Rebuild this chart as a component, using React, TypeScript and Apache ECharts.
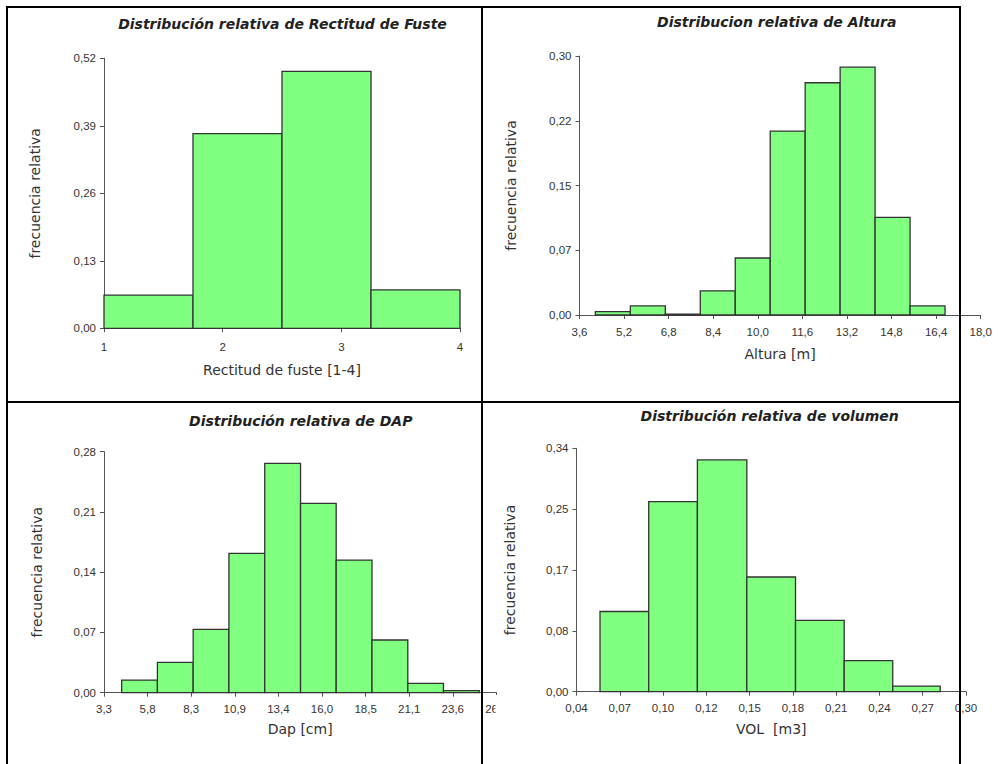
import React, { useEffect, useRef } from "react";
import * as echarts from "echarts";

const FONT = "'DejaVu Sans', Verdana, sans-serif";
const TICK_FONT = "'Liberation Sans', Arial, sans-serif";
const BAR_FILL = "#80ff80";
const BAR_STROKE = "#333333";
const AXIS_COLOR = "#555555";
const TEXT_COLOR = "#333333";

// ---- Panel 1: Rectitud de fuste ----
const fusteXTicks = ["1", "2", "3", "4"];
const fusteXStart = 1;
const fusteXStep = 1;
const fusteYTicks = ["0,00", "0,13", "0,26", "0,39", "0,52"];
const fusteYMax = 0.52;
const fusteEdges = [1, 1.75, 2.5, 3.25, 4];
const fusteFreq = [0.064, 0.375, 0.495, 0.074];

// ---- Panel 2: Altura ----
const alturaXTicks = ["3,6", "5,2", "6,8", "8,4", "10,0", "11,6", "13,2", "14,8", "16,4", "18,0"];
const alturaXStart = 3.6;
const alturaXStep = 1.6;
const alturaYTicks = ["0,00", "0,07", "0,15", "0,22", "0,30"];
const alturaYMax = 0.3;
const alturaEdges = [4.17, 5.425, 6.68, 7.935, 9.19, 10.445, 11.7, 12.955, 14.21, 15.465, 16.72];
const alturaFreq = [0.004, 0.0105, 0.001, 0.028, 0.066, 0.213, 0.269, 0.287, 0.113, 0.0105];

// ---- Panel 3: DAP ----
const dapXTicks = ["3,3", "5,8", "8,3", "10,9", "13,4", "16,0", "18,5", "21,1", "23,6", "26,2"];
const dapXStart = 3.3;
const dapXStep = 2.5444;
const dapYTicks = ["0,00", "0,07", "0,14", "0,21", "0,28"];
const dapYMax = 0.28;
const dapEdges = [4.33, 6.417, 8.504, 10.59, 12.68, 14.77, 16.85, 18.94, 21.03, 23.11, 25.2];
const dapFreq = [0.0147, 0.0352, 0.0736, 0.1619, 0.2664, 0.22, 0.1541, 0.0612, 0.0108, 0.0023];

// ---- Panel 4: Volumen ----
const volXTicks = ["0,04", "0,07", "0,10", "0,12", "0,15", "0,18", "0,21", "0,24", "0,27", "0,30"];
const volXStart = 0.04;
const volXStep = 0.028889;
const volYTicks = ["0,00", "0,08", "0,17", "0,25", "0,34"];
const volYMax = 0.34;
const volEdges = [0.0557, 0.0882, 0.1207, 0.1537, 0.1862, 0.2187, 0.2511, 0.2828];
const volFreq = [0.112, 0.2655, 0.3237, 0.1602, 0.0997, 0.0433, 0.0079];

const Y_NAME = "frecuencia relativa";

const panels = [
  {
    title: "Distribución relativa de Rectitud de Fuste",
    xName: "Rectitud de fuste [1-4]",
    xTicks: fusteXTicks, xStart: fusteXStart, xStep: fusteXStep,
    yTicks: fusteYTicks, yMax: fusteYMax, edges: fusteEdges, freq: fusteFreq,
    grid: { left: 104, top: 58.3, width: 356, height: 270 },
    titlePos: [282.5, 23.8], xNameGap: 35, yNameGap: 62, xLabelMargin: 12.5, yLabelMargin: 8,
  },
  {
    title: "Distribucion relativa de Altura",
    xName: "Altura [m]",
    xTicks: alturaXTicks, xStart: alturaXStart, xStep: alturaXStep,
    yTicks: alturaYTicks, yMax: alturaYMax, edges: alturaEdges, freq: alturaFreq,
    grid: { left: 579.5, top: 56, width: 401.2, height: 259 },
    titlePos: [776.7, 22.2], xNameGap: 31.5, yNameGap: 62, xLabelMargin: 11, yLabelMargin: 8,
  },
  {
    title: "Distribución relativa de DAP",
    xName: "Dap [cm]",
    xTicks: dapXTicks, xStart: dapXStart, xStep: dapXStep,
    yTicks: dapYTicks, yMax: dapYMax, edges: dapEdges, freq: dapFreq,
    grid: { left: 104, top: 451.7, width: 392.4, height: 241 },
    titlePos: [300.7, 420.5], xNameGap: 29.5, yNameGap: 60, xLabelMargin: 10.5, yLabelMargin: 8,
  },
  {
    title: "Distribución relativa de volumen",
    xName: "VOL  [m3]",
    xTicks: volXTicks, xStart: volXStart, xStep: volXStep,
    yTicks: volYTicks, yMax: volYMax, edges: volEdges, freq: volFreq,
    grid: { left: 576.5, top: 448.3, width: 389.5, height: 243.4 },
    titlePos: [769.7, 416.3], xNameGap: 30.5, yNameGap: 59.5, xLabelMargin: 10, yLabelMargin: 8,
  },
];

function buildOption() {
  const grid: any[] = [];
  const xAxis: any[] = [];
  const yAxis: any[] = [];
  const series: any[] = [];
  const title: any[] = [];

  panels.forEach((p, i) => {
    grid.push({ ...p.grid, containLabel: false });
    title.push({
      text: p.title,
      left: p.titlePos[0],
      top: p.titlePos[1],
      textAlign: "center",
      textVerticalAlign: "middle",
      padding: 0,
      textStyle: {
        fontFamily: FONT,
        fontSize: 14,
        fontWeight: "bold",
        fontStyle: "italic",
        color: "#222222",
      },
    });
    xAxis.push({
      type: "value",
      gridIndex: i,
      min: 0,
      max: p.xTicks.length - 1,
      interval: 1,
      name: p.xName,
      nameLocation: "middle",
      nameGap: p.xNameGap,
      nameTextStyle: { fontFamily: FONT, fontSize: 14, color: TEXT_COLOR },
      axisLine: { show: true, onZero: false, lineStyle: { color: AXIS_COLOR, width: 1 } },
      axisTick: { show: true, length: 4, lineStyle: { color: AXIS_COLOR, width: 1 } },
      axisLabel: {
        fontFamily: TICK_FONT,
        fontSize: 11.5,
        color: TEXT_COLOR,
        margin: p.xLabelMargin,
        formatter: (v: number) => p.xTicks[Math.round(v)] ?? "",
      },
      splitLine: { show: false },
    });
    const yStep = p.yMax / 4;
    yAxis.push({
      type: "value",
      gridIndex: i,
      min: 0,
      max: p.yMax,
      interval: yStep,
      name: Y_NAME,
      nameLocation: "middle",
      nameGap: p.yNameGap,
      nameRotate: 90,
      nameTextStyle: { fontFamily: FONT, fontSize: 14, color: TEXT_COLOR },
      axisLine: { show: true, lineStyle: { color: AXIS_COLOR, width: 1 } },
      axisTick: { show: true, length: 4, lineStyle: { color: AXIS_COLOR, width: 1 } },
      axisLabel: {
        fontFamily: TICK_FONT,
        fontSize: 11.5,
        color: TEXT_COLOR,
        margin: p.yLabelMargin,
        formatter: (v: number) => p.yTicks[Math.round(v / yStep)] ?? "",
      },
      splitLine: { show: false },
    });
    const data = p.freq.map((f, k) => [
      (p.edges[k] - p.xStart) / p.xStep,
      (p.edges[k + 1] - p.xStart) / p.xStep,
      f,
    ]);
    series.push({
      type: "custom",
      xAxisIndex: i,
      yAxisIndex: i,
      clip: false,
      encode: { x: [0, 1], y: 2 },
      data,
      renderItem: (_params: any, api: any) => {
        const a = api.coord([api.value(0), api.value(2)]);
        const b = api.coord([api.value(1), 0]);
        return {
          type: "rect",
          shape: { x: a[0], y: a[1], width: b[0] - a[0], height: b[1] - a[1] },
          style: { fill: BAR_FILL, stroke: BAR_STROKE, lineWidth: 1.3 },
        };
      },
    });
  });

  const lineStyle = { stroke: "#000000", lineWidth: 2 };
  const graphic = [
    // cover that clips the overflow of the DAP axis labels into the next cell
    { type: "rect", z: 50, shape: { x: 495.5, y: 695, width: 30, height: 28 }, style: { fill: "#ffffff" } },
    { type: "line", z: 100, shape: { x1: 6, y1: 7, x2: 961, y2: 7 }, style: lineStyle },
    { type: "line", z: 100, shape: { x1: 6, y1: 402, x2: 961, y2: 402 }, style: lineStyle },
    { type: "line", z: 100, shape: { x1: 7, y1: 6, x2: 7, y2: 764 }, style: lineStyle },
    { type: "line", z: 100, shape: { x1: 482, y1: 6, x2: 482, y2: 764 }, style: lineStyle },
    { type: "line", z: 100, shape: { x1: 960, y1: 6, x2: 960, y2: 764 }, style: lineStyle },
  ];

  return {
    animation: false,
    backgroundColor: "#ffffff",
    title,
    grid,
    xAxis,
    yAxis,
    series,
    graphic,
  };
}

export default function App() {
  const ref = useRef<HTMLDivElement>(null);
  useEffect(() => {
    if (!ref.current) return;
    const chart = echarts.init(ref.current, undefined, { renderer: "svg" });
    chart.setOption(buildOption() as any);
    return () => chart.dispose();
  }, []);
  return (
    <div
      ref={ref}
      style={{ position: "absolute", left: 0, top: 0, width: 1006, height: 764 }}
    />
  );
}
